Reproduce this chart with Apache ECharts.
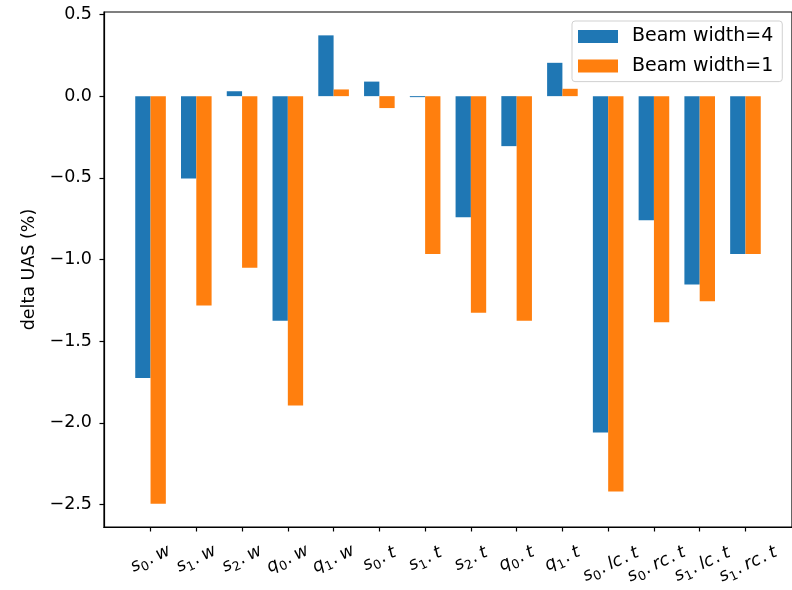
<!DOCTYPE html>
<html>
<head>
<meta charset="utf-8">
<script src="https://cdn.jsdelivr.net/npm/echarts@6/dist/echarts.min.js"></script>
<style>
html,body{margin:0;padding:0;background:#fff;}
#chart{width:792px;height:590px;}
</style>
</head>
<body>
<div id="chart"></div>
<script>
// Category labels (math style: variable, subscript, suffix)
const catVar = ['s','s','s','q','q','s','s','s','q','q','s','s','s','s'];
const catSub = ['0','1','2','0','1','0','1','2','0','1','0','0','1','1'];
const catSuffix = ['w','w','w','w','w','t','t','t','t','t','lc.t','rc.t','lc.t','rc.t'];
const seriesNames = ['Beam width=4', 'Beam width=1'];
const beam4 = [-1.725, -0.504, 0.03, -1.374, 0.372, 0.089, -0.006, -0.741, -0.306, 0.204, -2.058, -0.759, -1.153, -0.966];
const beam1 = [-2.494, -1.282, -1.051, -1.894, 0.041, -0.073, -0.966, -1.325, -1.374, 0.045, -2.42, -1.384, -1.255, -0.966];
const yTicks = [-2.5, -2.0, -1.5, -1.0, -0.5, 0.0, 0.5];
const xTicks = catVar.map((_, i) => i);
const xTicksEven = xTicks.filter(i => i % 2 === 0);
const xTicksOdd = xTicks.filter(i => i % 2 === 1);

const FONT = 'DejaVu Sans';
const FS = 17.5;

function mathLabel(i) {
  const parts = catSuffix[i].split('.');
  const L = parts.length > 1 ? 'L' : '';
  let s = '{v' + L + '|' + catVar[i] + '}{sub' + L + '|' + catSub[i] + '}';
  parts.forEach(p => { s += '{p' + L + '|.}{v' + L + '|' + p + '}'; });
  return s;
}

const vStyle = {fontFamily: FONT, fontStyle: 'italic', fontSize: FS, color: '#000', lineHeight: 22, verticalAlign: 'middle'};
const pStyle = {fontFamily: FONT, fontSize: FS, color: '#000', lineHeight: 22, verticalAlign: 'middle', padding: [0, 4, 0, 1]};
const sStyle = {fontFamily: FONT, fontSize: 12.5, color: '#000', lineHeight: 12, verticalAlign: 'middle', padding: [10, 0, 0, 0]};

function makeXAxis(ticks) {
  return {
    type: 'value',
    min: -1.017, max: 14.017,
    position: 'bottom',
    splitLine: {show: false},
    axisLine: {show: true, onZero: false, lineStyle: {color: '#000', width: 1.2}},
    axisTick: {show: true, customValues: ticks, length: 4.5, lineStyle: {color: '#000', width: 1.2}},
    axisLabel: {
      customValues: ticks,
      showMinLabel: true, showMaxLabel: true, hideOverlap: false,
      rotate: 25, align: 'center', verticalAlign: 'middle', margin: 32,
      formatter: v => mathLabel(Math.round(v)),
      rich: {
        v: vStyle,
        p: pStyle,
        sub: sStyle,
        vL: Object.assign({}, vStyle, {padding: [12, 0, 0, 0]}),
        pL: Object.assign({}, pStyle, {padding: [12, 4, 0, 1]}),
        subL: Object.assign({}, sStyle, {padding: [22, 0, 0, 0]})
      }
    }
  };
}

const chart = echarts.init(document.getElementById('chart'), null, {renderer: 'canvas'});
const option = {
  animation: false,
  backgroundColor: '#fff',
  grid: {
    left: 104, top: 12, width: 690, bottom: 63,
    show: true, borderColor: '#000', borderWidth: 1.2, backgroundColor: 'transparent'
  },
  legend: {
    orient: 'vertical',
    left: 572, top: 21,
    padding: [6, 9, 6, 6],
    itemWidth: 40, itemHeight: 13, itemGap: 10.6,
    borderColor: 'rgba(204,204,204,0.9)', borderWidth: 1, borderRadius: 3,
    backgroundColor: 'rgba(255,255,255,0.8)',
    icon: 'rect',
    textStyle: {fontFamily: FONT, fontSize: 19, color: '#000', lineHeight: 19, padding: [0, 0, 0, 9]},
    data: seriesNames
  },
  xAxis: [makeXAxis(xTicksEven), makeXAxis(xTicksOdd)],
  yAxis: {
    type: 'value',
    min: -2.637, max: 0.515,
    name: 'delta UAS (%)',
    nameLocation: 'middle', nameGap: 63,
    nameTextStyle: {fontFamily: FONT, fontSize: FS, color: '#000'},
    splitLine: {show: false},
    axisLine: {show: true, onZero: false, lineStyle: {color: '#000', width: 1.2}},
    axisTick: {show: true, customValues: yTicks, length: 4.5, lineStyle: {color: '#000', width: 1.2}},
    axisLabel: {
      customValues: yTicks, margin: 12,
      fontFamily: FONT, fontSize: FS, color: '#000',
      formatter: v => v.toFixed(1).replace('-', '\u2212')
    }
  },
  series: [
    {
      name: seriesNames[0], type: 'bar', xAxisIndex: 0,
      barWidth: 15.3, barGap: '0%',
      itemStyle: {color: '#1f77b4'},
      data: beam4.map((v, i) => [i, v])
    },
    {
      name: seriesNames[1], type: 'bar', xAxisIndex: 0,
      barWidth: 15.3, barGap: '0%',
      itemStyle: {color: '#ff7f0e'},
      data: beam1.map((v, i) => [i, v])
    }
  ]
};
chart.setOption(option);
</script>
</body>
</html>
